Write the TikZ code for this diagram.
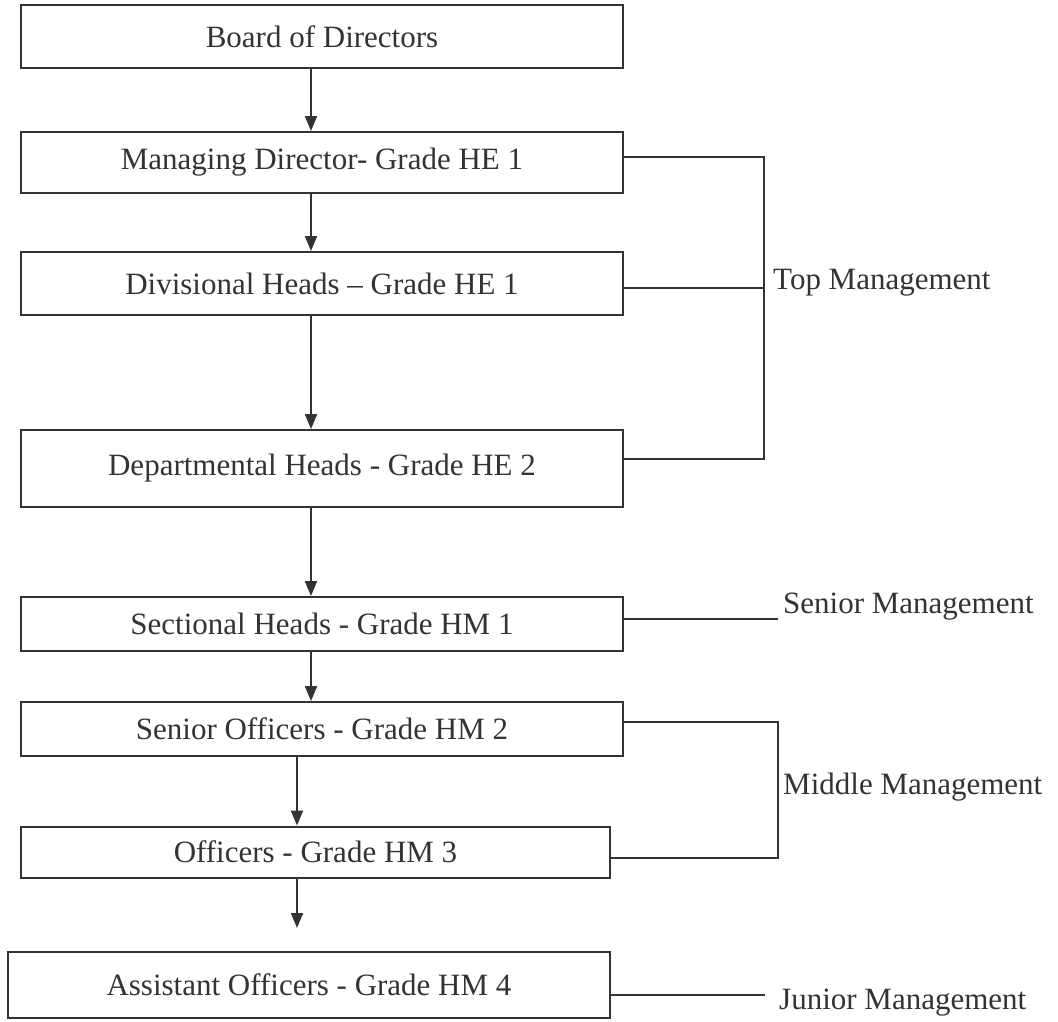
\documentclass[tikz,border=0pt]{standalone}
\usepackage{fontspec}
\setmainfont{Liberation Serif}
\usetikzlibrary{arrows.meta}
\definecolor{ink}{HTML}{333333}
\begin{document}
\begin{tikzpicture}[x=1pt,y=-1pt,
  every node/.style={font=\fontsize{31}{37}\selectfont, text=ink},
  box/.style={draw=ink, line width=2pt, rectangle, inner sep=0pt, fill=white},
  link/.style={draw=ink, line width=2pt},
  arr/.style={link, -{Triangle[width=12pt,length=15pt]}},
  lbl/.style={anchor=west, inner sep=0pt}]
\useasboundingbox[fill=white] (0,0) rectangle (1058,1021);
% boxes
\node[box, minimum width=602pt, minimum height=63pt] (bod)  at (322,36.5) {Board of Directors};
\node[box, minimum width=602pt, minimum height=61pt] (md)   at (322,162.5) {Managing Director- Grade HE 1};
\node[box, minimum width=602pt, minimum height=63pt] (div)  at (322,283.5) {Divisional Heads -- Grade HE 1};
\node[box, minimum width=602pt, minimum height=77pt] (dept) at (322,468.5) {Departmental Heads - Grade HE 2};
\node[box, minimum width=602pt, minimum height=54pt] (sect) at (322,624) {Sectional Heads - Grade HM 1};
\node[box, minimum width=602pt, minimum height=54pt] (so)   at (322,729) {Senior Officers - Grade HM 2};
\node[box, minimum width=589pt, minimum height=51pt] (off)  at (315.5,852) {Officers - Grade HM 3};
\node[box, minimum width=602pt, minimum height=66pt] (asst) at (309,985) {Assistant Officers - Grade HM 4};
% arrow axes
\coordinate (axA) at (311,0);
\coordinate (axB) at (297,0);
\coordinate (endA) at (297,928);
\draw[arr] (bod.south -| axA) -- (md.north -| axA);
\draw[arr] (md.south -| axA) -- (div.north -| axA);
\draw[arr] (div.south -| axA) -- (dept.north -| axA);
\draw[arr] (dept.south -| axA) -- (sect.north -| axA);
\draw[arr] (sect.south -| axA) -- (so.north -| axA);
\draw[arr] (so.south -| axB) -- (off.north -| axB);
\draw[arr] (off.south -| axB) -- (endA);
% top management bracket
\coordinate (tb1) at (764,157);
\coordinate (tb2) at (764,288);
\coordinate (tb3) at (764,459);
\draw[link] (md.east |- tb1) -- (tb1) -- (tb3) -- (dept.east |- tb3);
\draw[link] (div.east |- tb2) -- (tb2);
\node[lbl] (toplbl) at (773,283) {Top Management};
% senior management
\coordinate (sm) at (778,619);
\draw[link] (sect.east |- sm) -- (sm);
\node[lbl] (senlbl) at (783,607) {Senior Management};
% middle management bracket
\coordinate (mb1) at (778,722);
\coordinate (mb2) at (778,858);
\draw[link] (so.east |- mb1) -- (mb1) -- (mb2) -- (off.east |- mb2);
\node[lbl] (midlbl) at (783,787) {Middle Management};
% junior management
\coordinate (jm) at (765,995);
\draw[link] (asst.east |- jm) -- (jm);
\node[lbl] (junlbl) at (779,1003) {Junior Management};
\end{tikzpicture}
\end{document}
